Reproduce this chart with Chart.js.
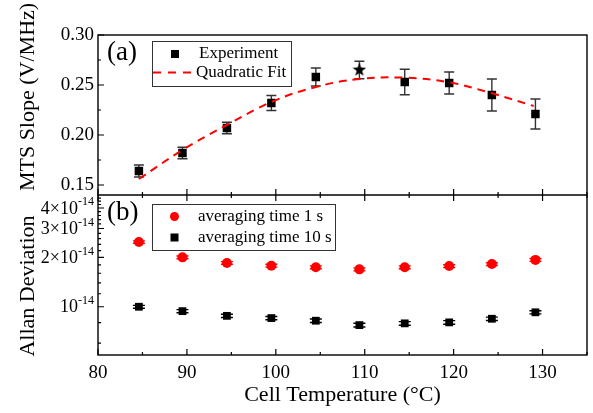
<!DOCTYPE html>
<html>
<head>
<meta charset="utf-8">
<script src="https://cdn.jsdelivr.net/npm/chart.js@4"></script>
<style>
  html, body { margin: 0; padding: 0; background: #fff; }
  canvas { display: block; }
</style>
</head>
<body>
<canvas id="mtsChart" width="593" height="413"></canvas>
<script>
// cell temperatures (°C)
const temps = [84.6, 89.5, 94.5, 99.5, 104.5, 109.4, 114.5, 119.5, 124.3, 129.2];
// (a) MTS slope (V/MHz) and error bars
const slope = [0.164, 0.182, 0.207, 0.232, 0.258, 0.265, 0.253, 0.252, 0.240, 0.221];
const slopeErr = [0.006, 0.0057, 0.0057, 0.0075, 0.009, 0.0087, 0.0127, 0.011, 0.016, 0.015];
const starIndex = 5; // the point drawn as a star
// quadratic fit
const fitTemps = [84.6, 89.5, 94.5, 99.5, 104.5, 109.4, 114.5, 119.5, 124.3, 129.0];
const fitSlope = [0.156, 0.185, 0.210, 0.233, 0.248, 0.256, 0.2573, 0.2527, 0.2417, 0.229];
// (b) Allan deviation
const allan1s = [2.48e-14, 2.00e-14, 1.85e-14, 1.78e-14, 1.74e-14, 1.69e-14, 1.74e-14, 1.77e-14, 1.82e-14, 1.93e-14];
const allan1sErr = [0.04e-14, 0.04e-14, 0.035e-14, 0.035e-14, 0.035e-14, 0.035e-14, 0.035e-14, 0.035e-14, 0.035e-14, 0.04e-14];
const allan10s = [1.0e-14, 0.94e-14, 0.88e-14, 0.853e-14, 0.822e-14, 0.773e-14, 0.792e-14, 0.803e-14, 0.845e-14, 0.925e-14];
const allan10sErr = [0.02e-14, 0.02e-14, 0.02e-14, 0.02e-14, 0.02e-14, 0.02e-14, 0.02e-14, 0.02e-14, 0.02e-14, 0.02e-14];
// axis ticks
const xMajor = [80, 90, 100, 110, 120, 130];
const xMinor = [85, 95, 105, 115, 125, 135];
const slopeMajor = [0.15, 0.20, 0.25, 0.30];
const slopeMinor = [0.175, 0.225, 0.275];
const allanMajor = [1, 2, 3, 4]; // x 10^-14
const allanMinor = [0.6, 0.8, 1.2, 1.4, 1.6, 1.8, 2.2, 2.4, 2.6, 2.8, 3.2, 3.4, 3.6, 3.8, 4.2, 4.4, 4.6];

const serif = '"Liberation Serif", "Times New Roman", serif';
Chart.defaults.font.family = serif;
Chart.defaults.color = '#000';

function starImage(size, color) {
    const c = document.createElement('canvas');
    c.width = c.height = size;
    const g = c.getContext('2d');
    g.fillStyle = color;
    g.beginPath();
    for (let k = 0; k < 10; k++) {
        const r = k % 2 ? size * 0.21 : size / 2;
        const a = -Math.PI / 2 + k * Math.PI / 5;
        g.lineTo(size / 2 + r * Math.cos(a), size / 2 + r * Math.sin(a));
    }
    g.closePath();
    g.fill();
    return c;
}
const star = starImage(14, '#000');

function errorBars(ctx, xs, vals, errs, yScale, half, color) {
    ctx.strokeStyle = color;
    vals.forEach((v, i) => {
        const px = xs.getPixelForValue(temps[i]);
        const top = yScale.getPixelForValue(v + errs[i]);
        const bot = yScale.getPixelForValue(v - errs[i]);
        ctx.beginPath();
        ctx.moveTo(px, top); ctx.lineTo(px, bot);
        ctx.moveTo(px - half, top); ctx.lineTo(px + half, top);
        ctx.moveTo(px - half, bot); ctx.lineTo(px + half, bot);
        ctx.stroke();
    });
}

const panelDecor = {
    id: 'panelDecor',
    beforeDatasetsDraw(chart) {
        const { ctx } = chart;
        const { x, ySlope, yAllan } = chart.scales;
        ctx.save();
        ctx.lineWidth = 1.4;
        errorBars(ctx, x, slope, slopeErr, ySlope, 5, '#333');
        errorBars(ctx, x, allan1s, allan1sErr, yAllan, 6, '#f00');
        errorBars(ctx, x, allan10s, allan10sErr, yAllan, 6, '#000');
        ctx.restore();
    },
    afterDraw(chart) {
        const { ctx, chartArea: a } = chart;
        const { x, ySlope, yAllan } = chart.scales;
        const mid = ySlope.bottom;
        ctx.save();

        // frames
        ctx.lineWidth = 1.4;
        ctx.strokeStyle = '#000';
        ctx.strokeRect(a.left, a.top, a.right - a.left, a.bottom - a.top);
        ctx.beginPath();
        ctx.moveTo(a.left, mid); ctx.lineTo(a.right, mid);
        ctx.stroke();

        // inward ticks
        ctx.lineWidth = 1.2;
        ctx.beginPath();
        xMajor.forEach(v => {
            const px = x.getPixelForValue(v);
            ctx.moveTo(px, a.bottom); ctx.lineTo(px, a.bottom - 6);
            ctx.moveTo(px, mid - 6); ctx.lineTo(px, mid + 6);
        });
        xMinor.forEach(v => {
            const px = x.getPixelForValue(v);
            ctx.moveTo(px, a.bottom); ctx.lineTo(px, a.bottom - 3);
            ctx.moveTo(px, mid - 3); ctx.lineTo(px, mid + 3);
        });
        slopeMajor.forEach(v => {
            const py = ySlope.getPixelForValue(v);
            ctx.moveTo(a.left, py); ctx.lineTo(a.left + 6, py);
        });
        slopeMinor.forEach(v => {
            const py = ySlope.getPixelForValue(v);
            ctx.moveTo(a.left, py); ctx.lineTo(a.left + 3, py);
        });
        allanMajor.forEach(v => {
            const py = yAllan.getPixelForValue(v * 1e-14);
            ctx.moveTo(a.left, py); ctx.lineTo(a.left + 6, py);
        });
        allanMinor.forEach(v => {
            const py = yAllan.getPixelForValue(v * 1e-14);
            ctx.moveTo(a.left, py); ctx.lineTo(a.left + 3, py);
        });
        ctx.stroke();

        // log axis labels with superscript exponent
        ctx.fillStyle = '#000';
        ctx.textBaseline = 'middle';
        allanMajor.forEach(v => {
            const py = yAllan.getPixelForValue(v * 1e-14);
            ctx.font = '12px ' + serif;
            ctx.textAlign = 'right';
            const right = a.left - 4;
            ctx.fillText('-14', right, py - 6);
            const expW = ctx.measureText('-14').width;
            ctx.font = '18px ' + serif;
            ctx.fillText(v === 1 ? '10' : v + '\u00d710', right - expW, py + 1);
        });

        // panel labels
        ctx.textAlign = 'left';
        ctx.font = '27px ' + serif;
        ctx.fillText('(a)', a.left + 9, 53);
        ctx.fillText('(b)', a.left + 9, 213);

        // y titles
        ctx.font = '22px ' + serif;
        ctx.textAlign = 'center';
        ctx.save();
        ctx.translate(28, 97);
        ctx.rotate(-Math.PI / 2);
        ctx.fillText('MTS Slope (V/MHz)', 0, 0);
        ctx.restore();
        ctx.save();
        ctx.translate(28, 286);
        ctx.rotate(-Math.PI / 2);
        ctx.fillText('Allan Deviation', 0, 0);
        ctx.restore();

        // legend (a)
        ctx.lineWidth = 1;
        ctx.strokeStyle = '#333';
        ctx.strokeRect(152.5, 41.5, 139, 45);
        ctx.fillStyle = '#000';
        ctx.fillRect(171, 50, 8, 8);
        ctx.strokeStyle = '#f00';
        ctx.lineWidth = 2;
        ctx.setLineDash([8, 7]);
        ctx.beginPath();
        ctx.moveTo(153, 72.5); ctx.lineTo(195, 72.5);
        ctx.stroke();
        ctx.setLineDash([]);
        ctx.font = '17px ' + serif;
        ctx.textAlign = 'left';
        ctx.fillText('Experiment', 199, 54);
        ctx.fillText('Quadratic Fit', 196, 72.5);

        // legend (b)
        ctx.lineWidth = 1;
        ctx.strokeStyle = '#333';
        ctx.strokeRect(152.5, 204.5, 183, 46);
        ctx.fillStyle = '#f00';
        ctx.beginPath();
        ctx.arc(174.5, 216.5, 4.5, 0, Math.PI * 2);
        ctx.fill();
        ctx.fillStyle = '#000';
        ctx.fillRect(170.5, 233.5, 8, 8);
        ctx.fillText('averaging time 1 s', 198, 216.5);
        ctx.fillText('averaging time 10 s', 198, 238);

        ctx.restore();
    }
};

new Chart(document.getElementById('mtsChart').getContext('2d'), {
    type: 'scatter',
    data: {
        datasets: [
            {
                label: 'Quadratic Fit',
                data: fitTemps.map((t, i) => ({ x: t, y: fitSlope[i] })),
                yAxisID: 'ySlope',
                showLine: true,
                borderColor: '#f00',
                borderWidth: 2,
                borderDash: [8, 6],
                tension: 0.4,
                pointRadius: 0
            },
            {
                label: 'Experiment',
                data: temps.map((t, i) => ({ x: t, y: slope[i] })),
                yAxisID: 'ySlope',
                pointStyle: temps.map((t, i) => i === starIndex ? star : 'rect'),
                pointRadius: 6,
                backgroundColor: '#000',
                borderColor: '#000',
                borderWidth: 0
            },
            {
                label: 'averaging time 1 s',
                data: temps.map((t, i) => ({ x: t, y: allan1s[i] })),
                yAxisID: 'yAllan',
                pointStyle: 'circle',
                pointRadius: 5,
                backgroundColor: '#f00',
                borderColor: '#f00',
                borderWidth: 0
            },
            {
                label: 'averaging time 10 s',
                data: temps.map((t, i) => ({ x: t, y: allan10s[i] })),
                yAxisID: 'yAllan',
                pointStyle: 'rect',
                pointRadius: 5.5,
                backgroundColor: '#000',
                borderColor: '#000',
                borderWidth: 0
            }
        ]
    },
    options: {
        responsive: false,
        animation: false,
        layout: { padding: { top: 35, right: 5, left: 0, bottom: 0 } },
        scales: {
            x: {
                type: 'linear',
                position: 'bottom',
                min: 80,
                max: 135,
                afterBuildTicks: s => { s.ticks = xMajor.map(v => ({ value: v })); },
                afterFit: s => { s.height = 58; },
                grid: { display: false, drawTicks: false },
                border: { display: false },
                ticks: { color: '#000', padding: 7, font: { family: serif, size: 19 } },
                title: {
                    display: true,
                    text: 'Cell Temperature (°C)',
                    color: '#000',
                    font: { family: serif, size: 22 },
                    padding: { top: 0, bottom: 5 }
                }
            },
            yAllan: {
                type: 'logarithmic',
                position: 'left',
                stack: 'panels',
                stackWeight: 1,
                min: 5.08e-15,
                max: 4.8e-14,
                afterFit: s => { s.width = 98; },
                grid: { display: false, drawTicks: false },
                border: { display: false },
                ticks: { display: false }
            },
            ySlope: {
                type: 'linear',
                position: 'left',
                stack: 'panels',
                stackWeight: 1,
                min: 0.14,
                max: 0.30,
                afterBuildTicks: s => { s.ticks = slopeMajor.map(v => ({ value: v })); },
                afterFit: s => { s.width = 98; },
                grid: { display: false, drawTicks: false },
                border: { display: false },
                ticks: {
                    color: '#000',
                    padding: 4,
                    font: { family: serif, size: 19 },
                    callback: v => v.toFixed(2)
                }
            }
        },
        plugins: {
            legend: { display: false },
            tooltip: { enabled: false }
        }
    },
    plugins: [panelDecor]
});
</script>
</body>
</html>
